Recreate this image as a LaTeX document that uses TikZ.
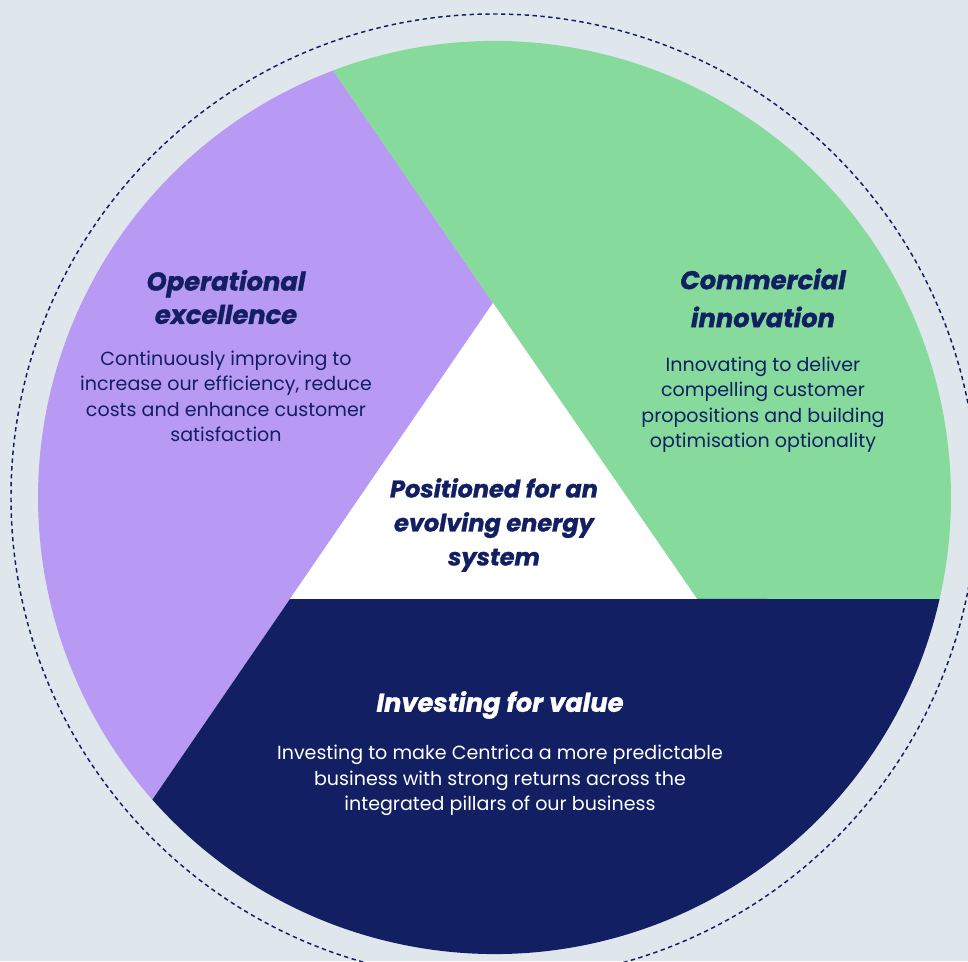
\documentclass[tikz,border=0pt]{standalone}
\usepackage{fontspec}
\setmainfont{Poppins}
\newfontfamily\pillarfont{Poppins}[FakeBold=1.2]
\usepackage{tikz}
\usetikzlibrary{calc,positioning}
\definecolor{bgc}{HTML}{DFE6EC}
\definecolor{lilac}{HTML}{B89AF5}
\definecolor{mint}{HTML}{86DB9C}
\definecolor{navy}{HTML}{121F63}

\begin{document}
\begin{tikzpicture}[x=0.75pt,y=0.75pt,
  pillar/.style={align=center,inner sep=0pt,text=navy,
    font=\pillarfont\fontsize{19.3}{25}\selectfont\bfseries\itshape},
  blurb/.style={align=center,inner sep=0pt,text=navy,
    font=\fontsize{14.3}{18.9}\selectfont}]
\fill[bgc] (0,0) rectangle (968,961);
\useasboundingbox (0,0) rectangle (968,961);
\clip (0,0) rectangle (968,961);

\coordinate (c) at (494.5,463.5);
\coordinate (apex) at (493,658);
\coordinate (left) at (290,362);
\coordinate (right) at (697,362);
\coordinate (p1) at ($(c)+(110.7:456.5)$);
\coordinate (p2) at ($(c)+(221.45:456.5)$);
\coordinate (p3) at ($(c)+(-12.85:456.5)$);

\fill[lilac] (apex) -- (left) -- (p2) arc[start angle=221.45,end angle=110.7,radius=456.5] -- cycle;
\fill[mint] (apex) -- (p1) arc[start angle=110.7,end angle=-12.85,radius=456.5] -- (right) -- cycle;
\fill[navy] (right) -- (p3) arc[start angle=-12.85,end angle=-138.55,radius=456.5] -- (left) -- cycle;
\fill[white] (apex) -- (left) -- (right) -- cycle;
\draw[navy,line width=1.1pt,dash pattern=on 3.3pt off 2.6pt] (494,464) circle[radius=483];

\node[pillar] (optitle) at (226,664) {Operational\\excellence};
\node[blurb,below=20pt of optitle] (optext) {Continuously improving to\\increase our efficiency, reduce\\costs and enhance customer\\satisfaction};

\node[pillar,font=\pillarfont\fontsize{19.3}{28.5}\selectfont\bfseries\itshape] (comtitle) at (763,663) {Commercial\\innovation};
\node[blurb,below=22pt of comtitle] (comtext) {Innovating to deliver\\compelling customer\\propositions and building\\optimisation optionality};

\node[pillar,font=\pillarfont\fontsize{18}{25.5}\selectfont\bfseries\itshape] (core) at (494,436) {Positioned for an\\evolving energy\\system};

\node[pillar,text=white] (invtitle) at (500,256) {Investing for value};
\node[blurb,text=white,below=19.5pt of invtitle] (invtext) {Investing to make Centrica a more predictable\\business with strong returns across the\\integrated pillars of our business};
\end{tikzpicture}
\end{document}
